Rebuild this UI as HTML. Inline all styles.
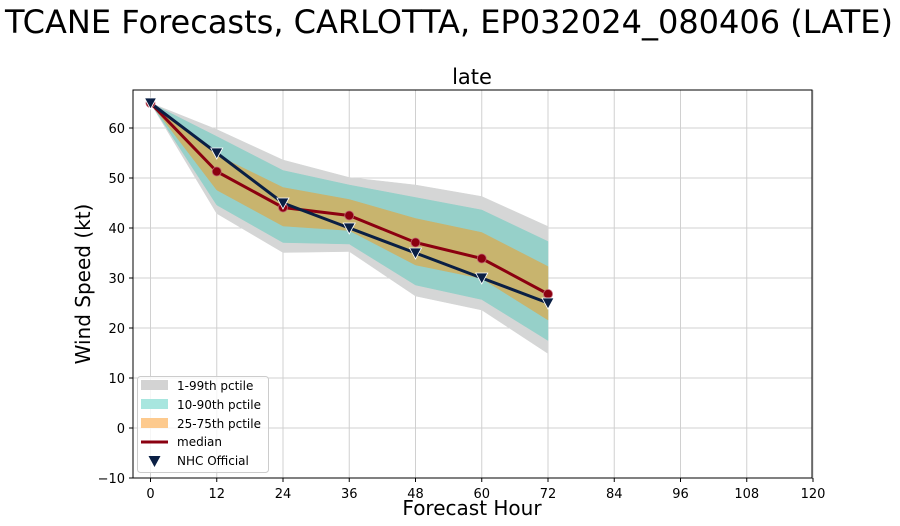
<!DOCTYPE html>
<html><head><meta charset="utf-8"><style>
body{margin:0;background:#fff;}
svg{display:block;font-family:"DejaVu Sans","Liberation Sans",sans-serif;}
</style></head><body>
<svg id="chart" width="900" height="526" xmlns="http://www.w3.org/2000/svg">
<text x="449" y="33" font-size="32" text-anchor="middle">TCANE Forecasts, CARLOTTA, EP032024_080406 (LATE)</text>
<text x="472" y="84" font-size="21" text-anchor="middle">late</text>
<text x="0" y="0" font-size="20" text-anchor="middle" transform="translate(90,284) rotate(-90)">Wind Speed (kt)</text>
<text x="472" y="515" font-size="20" text-anchor="middle">Forecast Hour</text>
<g id="grid"></g>
<g id="bands"></g>
<g id="lines"></g>
<g id="ticks"></g>
<rect x="133" y="90" width="679" height="388" fill="none" stroke="#000" stroke-width="1"/>
<g>
<rect x="137.5" y="376.5" width="131" height="96" rx="3" fill="#fff" fill-opacity="0.8" stroke="#ccc"/>
<rect x="141" y="380" width="27" height="10" fill="#d3d3d3"/>
<text x="177" y="390" font-size="12">1-99th pctile</text>
<rect x="141" y="399" width="27" height="10" fill="#a8e6df"/>
<text x="177" y="409" font-size="12">10-90th pctile</text>
<rect x="141" y="418" width="27" height="10" fill="#fdca8e"/>
<text x="177" y="428" font-size="12">25-75th pctile</text>
<line x1="141" y1="442" x2="168" y2="442" stroke="#8b0010" stroke-width="3"/>
<text x="177" y="446" font-size="12">median</text>
<path d="M148.5,456 L160.5,456 L154.5,467 Z" fill="#0a1f44"/>
<text x="177" y="465" font-size="12">NHC Official</text>
</g>
</svg>
<script>
const hours=[0,12,24,36,48,60,72];
const p01=[65,42.9,35.1,35.3,26.4,23.6,14.9];
const p99=[65,59.7,53.6,50.1,48.6,46.3,40.3];
const p10=[65,44.6,37.1,36.8,28.6,25.7,17.5];
const p90=[65,58.3,51.5,48.6,46.1,43.6,37.3];
const p25=[65,47.6,40.4,39.5,32.6,29.9,21.6];
const p75=[65,54.6,48.1,45.7,41.9,39.1,32.3];
const median=[65,51.3,44.1,42.5,37.1,33.9,26.8];
const nhc=[65,55,45,40,35,30,25];
const xTicks=[0,12,24,36,48,60,72,84,96,108,120];
const yTicks=[-10,0,10,20,30,40,50,60];
const NS='http://www.w3.org/2000/svg';
const X=h=>150.5+h*(662.5/120);
const Y=v=>478-(v+10)*5;
function mk(tag,parent,attrs){const e=document.createElementNS(NS,tag);for(const k in attrs)e.setAttribute(k,attrs[k]);document.getElementById(parent).appendChild(e);return e;}
xTicks.forEach(t=>{
  const g=mk('line','grid',{x1:X(t),x2:X(t),y1:90,y2:478,stroke:'#d0d0d0','stroke-width':1});
  
  
  const tk=mk('line','ticks',{x1:X(t),x2:X(t),y1:478,y2:482,stroke:'#000'});
  
  
  const tx=mk('text','ticks',{x:X(t),y:498,'font-size':13,'text-anchor':'middle'});
  tx.textContent=t;
  
  
});
yTicks.forEach(t=>{
  const g=mk('line','grid',{x1:133,x2:812,y1:Y(t),y2:Y(t),stroke:'#d0d0d0','stroke-width':1});
  
  
  const tk=mk('line','ticks',{x1:129,x2:133,y1:Y(t),y2:Y(t),stroke:'#000'});
  
  
  const tx=mk('text','ticks',{x:125,y:Y(t)+5,'font-size':13,'text-anchor':'end'});
  tx.textContent=(t<0?'\u2212'+(-t):t);
  
  
});
function band(lo,hi,fill,name){
  let d='M'+hours.map((h,i)=>X(h)+','+Y(hi[i])).join('L');
  d+='L'+hours.slice().reverse().map((h,j)=>{const i=hours.length-1-j;return X(h)+','+Y(lo[i]);}).join('L')+'Z';
  const p=mk('path','bands',{d:d,fill:fill,stroke:fill,'stroke-width':0.5});
  
  
}
band(p01,p99,'#d5d6d6','band-1-99');
band(p10,p90,'#96d0c9','band-10-90');
band(p25,p75,'#c8b46e','band-25-75');
function line(vals,color,name){
  const p=mk('polyline','lines',{points:hours.map((h,i)=>X(h)+','+Y(vals[i])).join(' '),fill:'none',stroke:color,'stroke-width':3,'stroke-linejoin':'round'});
  
  
}
line(median,'#8b0010','median-line');
line(nhc,'#0a1f44','nhc-line');
hours.forEach((h,i)=>{
  const c=mk('circle','lines',{cx:X(h),cy:Y(median[i]),r:4.5,fill:'#8b0010',stroke:'#c06070','stroke-width':0.8});
  
  
});
hours.forEach((h,i)=>{
  const x=X(h),y=Y(nhc[i]);
  const t=mk('path','lines',{d:`M${x-6},${y-5}L${x+6},${y-5}L${x},${y+6}Z`,fill:'#0a1f44',stroke:'#fff','stroke-width':0.8});
  
  
});
</script>
</body></html>
